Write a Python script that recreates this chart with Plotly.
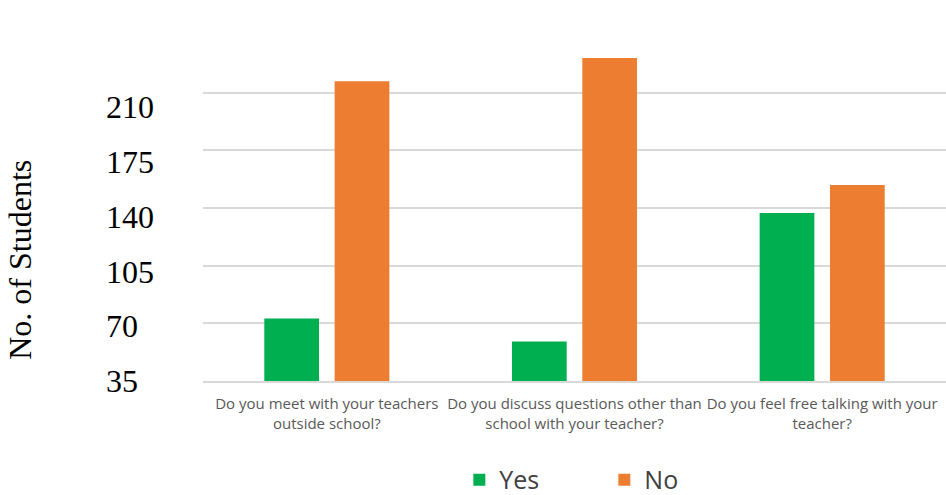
import plotly.graph_objects as go

categories = [
    "Do you meet with your teachers<br>outside school?",
    "Do you discuss questions other than<br>school with your teacher?",
    "Do you feel free talking with your<br>teacher?",
]
yes_values = [73, 59, 137]
no_values = [217, 231, 154]
grid_values = [35, 70, 105, 140, 175, 210, 245]
label_values = [35, 70, 105, 140, 175, 210]
tick_labels = ["35\u00a0\u00a0", "70\u00a0\u00a0", "105", "140", "175", "210"]

fig = go.Figure()
fig.add_trace(go.Bar(name="Yes", x=categories, y=yes_values, marker_color="#00B050",
                     marker_line_width=0))
fig.add_trace(go.Bar(name="No", x=categories, y=no_values, marker_color="#ED7D31",
                     marker_line_width=0))
# helper (invisible) so the label axis is rendered
fig.add_trace(go.Scatter(x=categories[:1], y=label_values[:1], yaxis="y2", mode="none",
                         showlegend=False, hoverinfo="skip"))

fig.update_layout(
    width=946, height=495,
    margin=dict(l=203, r=0, t=35, b=114, autoexpand=False),
    paper_bgcolor="white", plot_bgcolor="white",
    barmode="group", bargap=0.432, bargroupgap=0.222,
    showlegend=True,
    legend=dict(orientation="h", x=0.345, xanchor="left", y=-0.286, yanchor="middle",
                font=dict(family="Open Sans, sans-serif", size=25, color="#404040"),
                entrywidth=100, entrywidthmode="pixels", itemwidth=30,
                bgcolor="rgba(0,0,0,0)"),
    annotations=[dict(text="No. of Students", textangle=-90, xref="paper", yref="paper",
                      x=-0.2465, y=0.35, xanchor="center", yanchor="middle", showarrow=False,
                      font=dict(family="Liberation Serif, Times New Roman, serif", size=32,
                                color="#000000"))],
    yaxis=dict(range=[35, 245], tickvals=grid_values, showticklabels=False,
               showgrid=True, gridcolor="#D9D9D9", gridwidth=2,
               zeroline=False, showline=False, ticks="", automargin=False),
    yaxis2=dict(
        overlaying="y", anchor="x", side="left", range=[34.9, 256],
        tickvals=label_values, ticktext=tick_labels, showgrid=False, zeroline=False,
        showline=False, ticks="", automargin=False, ticklabelstandoff=48,
        tickfont=dict(family="Liberation Serif, Times New Roman, serif", size=32,
                      color="#000000"),
    ),
)
fig.update_xaxes(
    showline=True, linecolor="#D9D9D9", linewidth=2,
    tickfont=dict(family="Open Sans, sans-serif", size=15, color="#595959"),
    ticks="", showgrid=False, ticklabelstandoff=8, tickangle=0, automargin=False,
)

fig.write_html("out.html")
